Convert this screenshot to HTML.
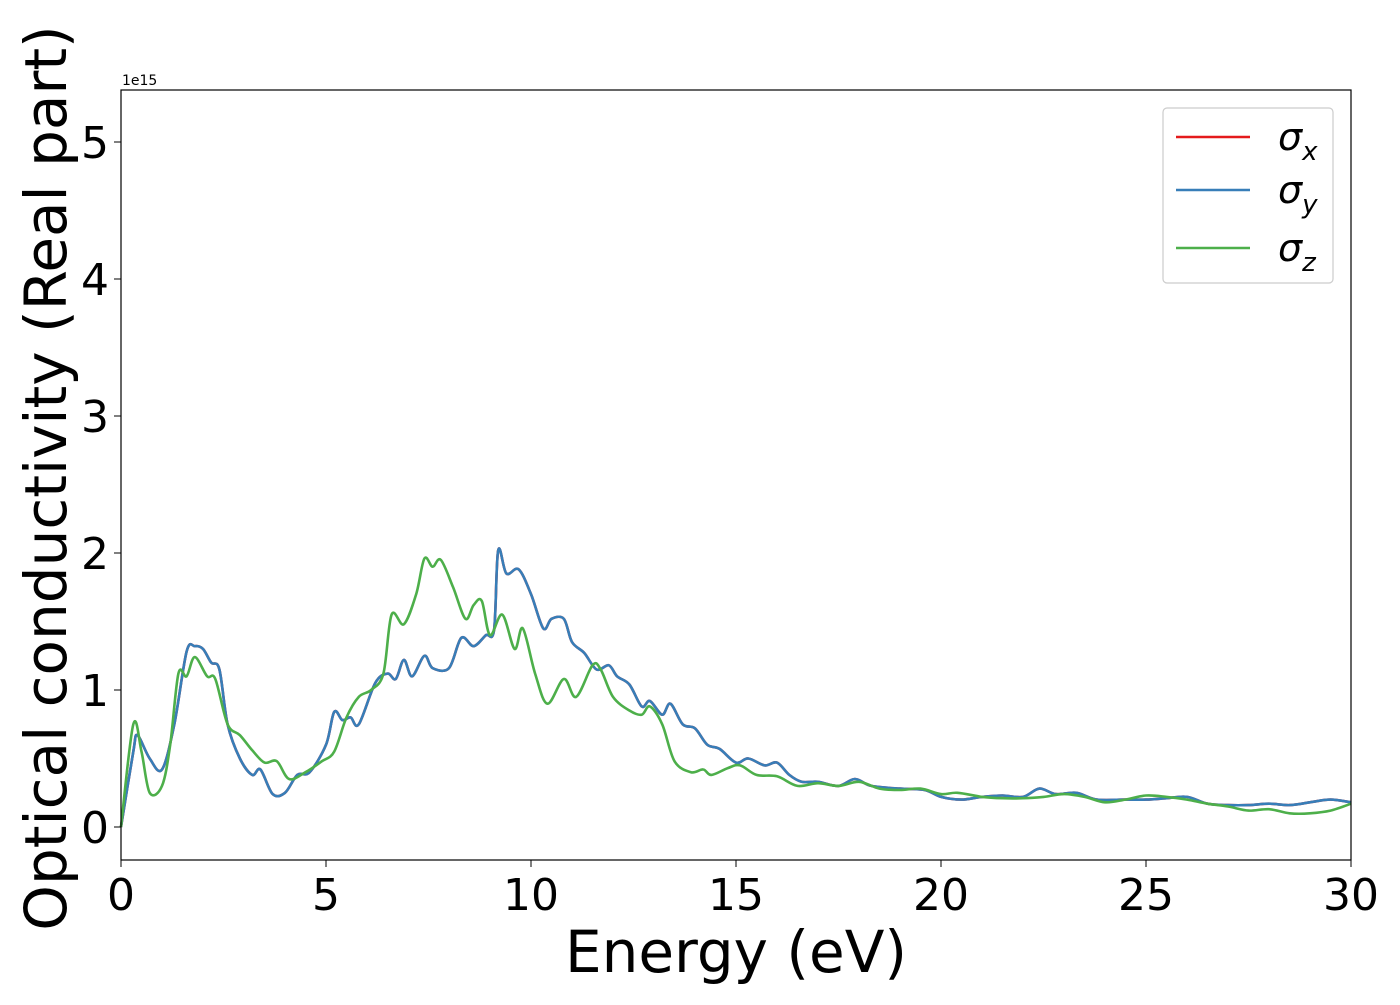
<!DOCTYPE html>
<html><head><meta charset="utf-8"><style>
body{margin:0;background:#fff;}
svg text{font-family:"DejaVu Sans","Liberation Sans",sans-serif;}
</style></head><body>
<svg id="chart" width="1400" height="1000" xmlns="http://www.w3.org/2000/svg">
<rect width="1400" height="1000" fill="#fff"/>
<g id="curves"></g>
<rect x="121" y="90" width="1230" height="770" fill="none" stroke="#000" stroke-width="1.2"/>
<g id="xt"></g>
<g id="yt"></g>
<text x="122" y="85" font-size="14">1e15</text>
<text x="736" y="972" font-size="58" text-anchor="middle">Energy (eV)</text>
<text transform="translate(66,478) rotate(-90)" font-size="58" text-anchor="middle">Optical conductivity (Real part)</text>
<g>
<rect x="1163" y="108" width="170" height="175" rx="4" fill="#fff" stroke="#ccc" stroke-width="1.2"/>
<line x1="1176" y1="137" x2="1250" y2="137" stroke="#e41a1c" stroke-width="2.5"/>
<text x="1278" y="150" font-size="38" font-style="italic">σ<tspan font-size="26" dy="10">x</tspan></text>
<line x1="1176" y1="190" x2="1250" y2="190" stroke="#377eb8" stroke-width="2.5"/>
<text x="1278" y="203" font-size="38" font-style="italic">σ<tspan font-size="26" dy="10">y</tspan></text>
<line x1="1176" y1="248" x2="1250" y2="248" stroke="#4daf4a" stroke-width="2.5"/>
<text x="1278" y="261" font-size="38" font-style="italic">σ<tspan font-size="26" dy="10">z</tspan></text>
</g>
</svg>
<script>
const energyXY=[0,0.3,0.4,0.7,1.0,1.3,1.6,1.8,2.0,2.2,2.4,2.6,2.9,3.2,3.4,3.7,4.0,4.3,4.6,5.0,5.2,5.4,5.6,5.8,6.2,6.5,6.7,6.9,7.1,7.4,7.6,8.0,8.3,8.6,8.9,9.1,9.2,9.4,9.7,10.0,10.3,10.5,10.8,11.0,11.3,11.6,11.9,12.1,12.4,12.7,12.9,13.2,13.4,13.7,14.0,14.3,14.6,15.0,15.3,15.7,16.0,16.3,16.6,17.0,17.5,17.9,18.3,19,19.6,20,20.5,21,21.5,22,22.4,22.8,23.3,23.8,24.5,25,25.5,26,26.5,27,27.5,28,28.5,29,29.5,30];
const sigmaXY=[0,0.55,0.67,0.5,0.42,0.75,1.28,1.32,1.3,1.2,1.15,0.75,0.5,0.38,0.42,0.24,0.25,0.38,0.4,0.6,0.84,0.78,0.8,0.75,1.05,1.12,1.08,1.22,1.1,1.25,1.16,1.16,1.38,1.32,1.4,1.44,2.02,1.85,1.88,1.7,1.45,1.52,1.52,1.35,1.27,1.15,1.18,1.1,1.04,0.88,0.92,0.82,0.9,0.75,0.72,0.6,0.57,0.47,0.5,0.45,0.47,0.38,0.33,0.33,0.3,0.35,0.3,0.28,0.27,0.22,0.2,0.22,0.23,0.22,0.28,0.24,0.25,0.2,0.2,0.2,0.21,0.22,0.17,0.16,0.16,0.17,0.16,0.18,0.2,0.18];
const energyZ=[0,0.3,0.5,0.7,1.0,1.2,1.4,1.6,1.8,2.1,2.3,2.6,2.9,3.2,3.5,3.8,4.1,4.5,4.9,5.2,5.5,5.8,6.1,6.4,6.6,6.9,7.2,7.4,7.6,7.8,8.1,8.4,8.6,8.8,9.0,9.3,9.6,9.8,10.1,10.4,10.8,11.1,11.5,11.7,12.0,12.4,12.7,12.9,13.2,13.5,13.9,14.2,14.4,14.8,15.1,15.5,16.0,16.5,17,17.5,18,18.5,19,19.5,20,20.4,21,21.5,22,22.5,23,23.5,24,24.5,25,25.5,26,26.5,27,27.5,28,28.5,29,29.5,30];
const sigmaZ=[0,0.75,0.55,0.25,0.3,0.6,1.12,1.1,1.24,1.1,1.08,0.75,0.67,0.56,0.47,0.48,0.35,0.4,0.48,0.55,0.8,0.95,1.0,1.12,1.55,1.48,1.7,1.96,1.9,1.95,1.75,1.52,1.62,1.65,1.4,1.55,1.3,1.45,1.12,0.9,1.08,0.95,1.18,1.15,0.95,0.85,0.82,0.88,0.75,0.48,0.4,0.42,0.38,0.43,0.45,0.38,0.37,0.3,0.32,0.3,0.33,0.28,0.27,0.28,0.24,0.25,0.22,0.21,0.21,0.22,0.24,0.22,0.18,0.2,0.23,0.22,0.2,0.17,0.15,0.12,0.13,0.1,0.1,0.12,0.17];
const xTicks=[0,5,10,15,20,25,30];
const yTicks=[0,1,2,3,4,5];
const NS="http://www.w3.org/2000/svg";
function sx(e){return 121+e*41;}
function sy(v){return 827-v*137;}
function pathFor(xs,ys){
  const p=xs.map((e,i)=>[sx(e),sy(ys[i])]);
  let d="M"+p[0][0]+","+p[0][1];
  for(let i=0;i<p.length-1;i++){
    const p0=p[Math.max(0,i-1)],p1=p[i],p2=p[i+1],p3=p[Math.min(p.length-1,i+2)];
    const c1=[p1[0]+(p2[0]-p0[0])/6,p1[1]+(p2[1]-p0[1])/6];
    const c2=[p2[0]-(p3[0]-p1[0])/6,p2[1]-(p3[1]-p1[1])/6];
    d+=" C"+c1[0].toFixed(1)+","+c1[1].toFixed(1)+" "+c2[0].toFixed(1)+","+c2[1].toFixed(1)+" "+p2[0].toFixed(1)+","+p2[1].toFixed(1);
  }
  return d;
}
const g=document.getElementById("curves");
function addLine(xs,ys,color,name){
  const el=document.createElementNS(NS,"path");
  el.setAttribute("d",pathFor(xs,ys));
  el.setAttribute("fill","none");
  el.setAttribute("stroke",color);
  el.setAttribute("stroke-width","2.6");
  
  
  g.appendChild(el);
}
addLine(energyXY,sigmaXY,"#e41a1c","sigma-x-line");
addLine(energyXY,sigmaXY,"#377eb8","sigma-y-line");
addLine(energyZ,sigmaZ,"#4daf4a","sigma-z-line");
const xt=document.getElementById("xt");
xTicks.forEach(t=>{
  const l=document.createElementNS(NS,"line");
  l.setAttribute("x1",sx(t));l.setAttribute("x2",sx(t));l.setAttribute("y1",860);l.setAttribute("y2",867);
  l.setAttribute("stroke","#000");
  
  
  xt.appendChild(l);
  const tx=document.createElementNS(NS,"text");
  tx.setAttribute("x",sx(t));tx.setAttribute("y",910);tx.setAttribute("font-size","44");tx.setAttribute("text-anchor","middle");
  tx.textContent=t;
  
  
  xt.appendChild(tx);
});
const yt=document.getElementById("yt");
yTicks.forEach(t=>{
  const l=document.createElementNS(NS,"line");
  l.setAttribute("x1",114);l.setAttribute("x2",121);l.setAttribute("y1",sy(t));l.setAttribute("y2",sy(t));
  l.setAttribute("stroke","#000");
  
  
  yt.appendChild(l);
  const tx=document.createElementNS(NS,"text");
  tx.setAttribute("x",109);tx.setAttribute("y",sy(t)+16);tx.setAttribute("font-size","44");tx.setAttribute("text-anchor","end");
  tx.textContent=t;
  
  
  yt.appendChild(tx);
});
</script>
</body></html>
